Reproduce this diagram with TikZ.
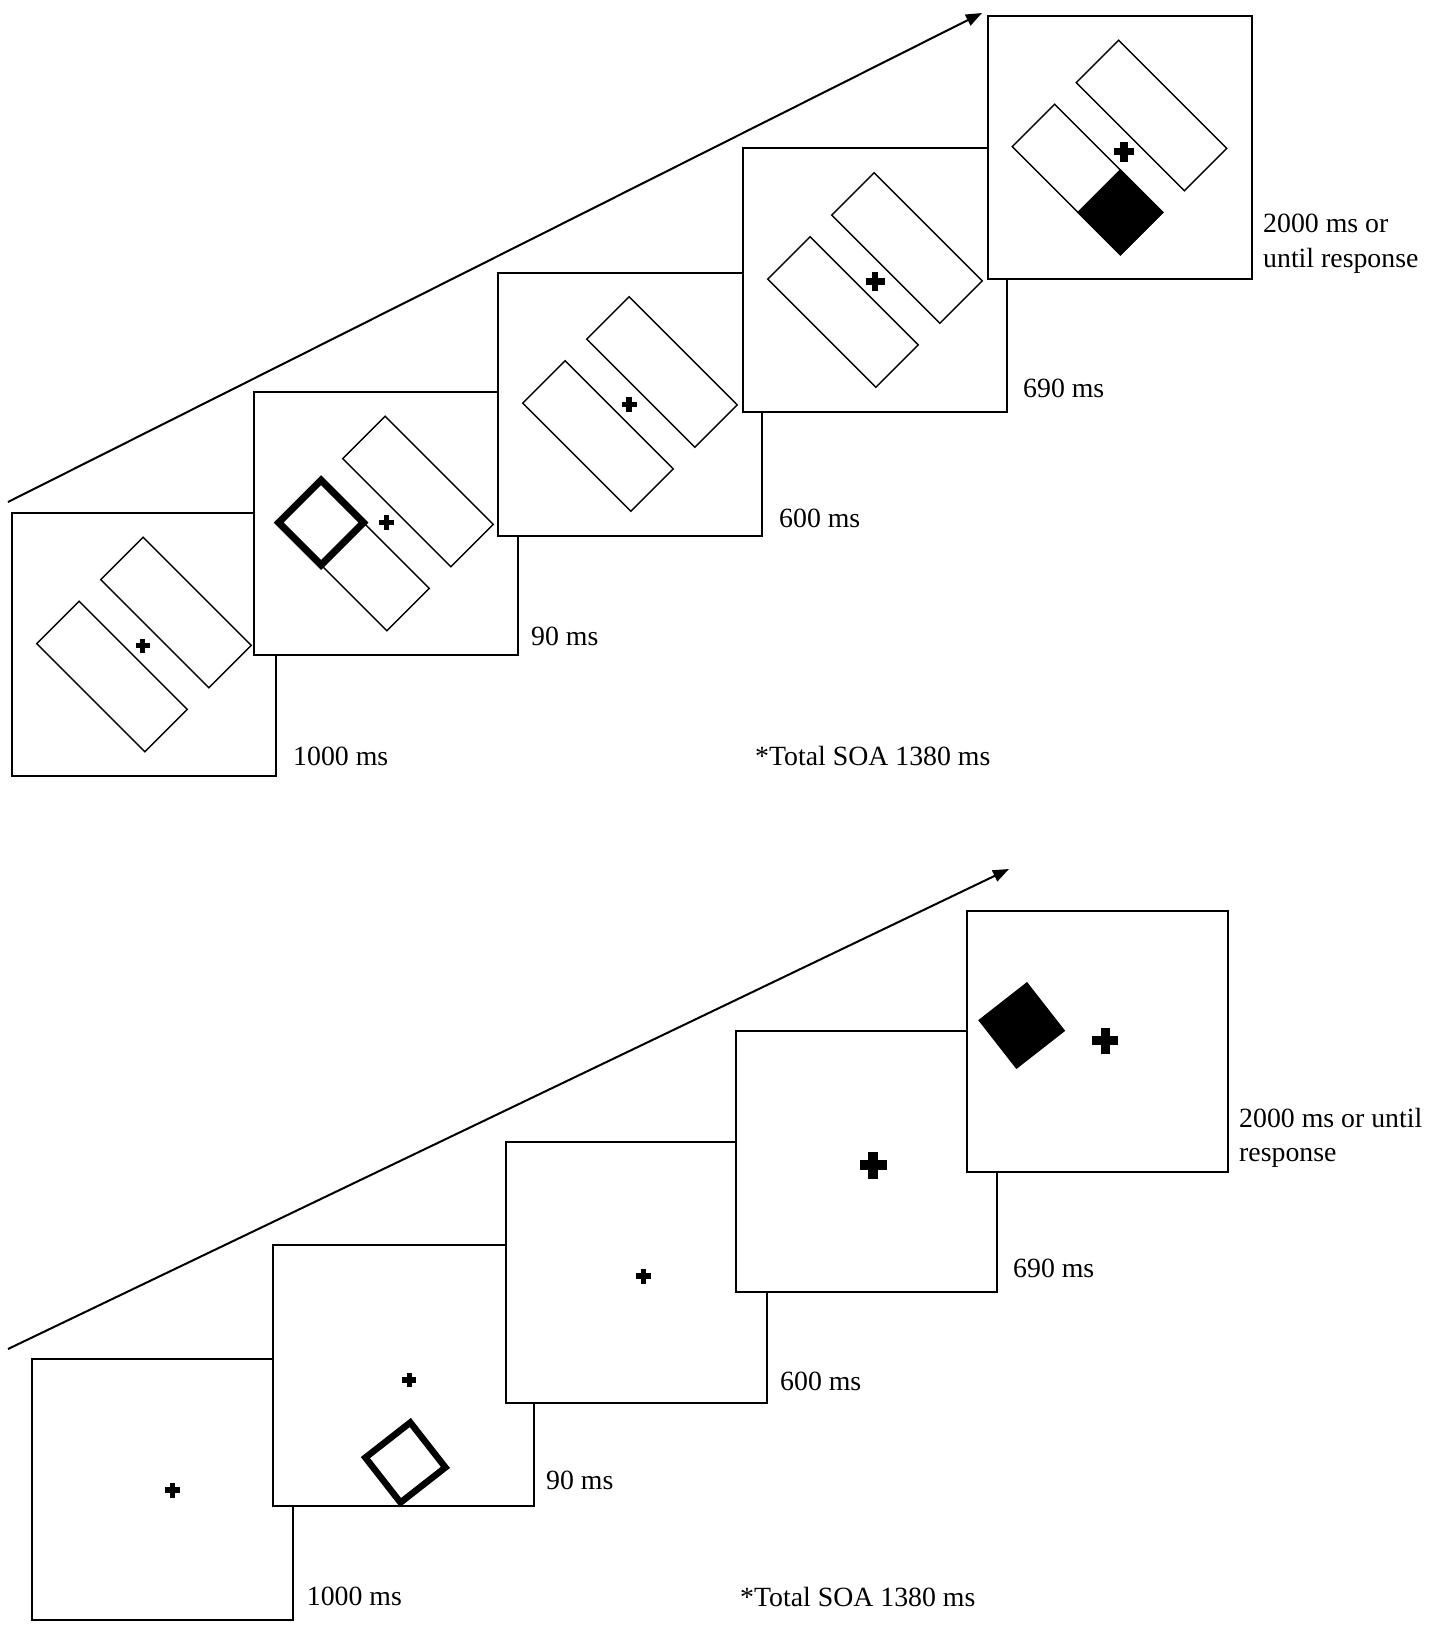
\documentclass[tikz,border=0pt]{standalone}
\usepackage{fontspec}
\setmainfont{Liberation Serif}
\usetikzlibrary{arrows.meta}
\newcommand{\fixplus}[3]{%
  \fill ({#1-#3/2},{#2-0.18*#3}) rectangle ({#1+#3/2},{#2+0.18*#3});
  \fill ({#1-0.18*#3},{#2-#3/2}) rectangle ({#1+0.18*#3},{#2+#3/2});}
\newcommand{\barpair}[2]{%
  \draw[bar, shift={({#1+32},{#2-32})}, rotate=-45] (-76.5,-30) rectangle (76.5,30);
  \draw[bar, shift={({#1-32},{#2+32})}, rotate=-45] (-76.5,-30) rectangle (76.5,30);}
\tikzset{
  topframe/.style={draw, fill=white, line width=2pt, inner sep=0pt, minimum width=264pt, minimum height=263pt},
  botframe/.style={draw, fill=white, line width=2pt, inner sep=0pt, minimum width=261pt, minimum height=261pt},
  bar/.style={draw, line width=1.4pt},
  timeline/.style={line width=2pt, -{Triangle[length=16pt,width=12pt]}},
  lbl/.style={anchor=base west, inner sep=0pt, font=\fontsize{27.8}{33}\selectfont},
}
\begin{document}
\begin{tikzpicture}[x=1pt, y=-1pt]
\useasboundingbox[fill=white] (0,0) rectangle (1430,1629);

% ---------------- top panel ----------------
\coordinate (ta) at (8,502);
\coordinate (tb) at (982,13);
\draw[timeline] (ta) -- (tb);

\node[topframe] (t1) at (144,644.5) {};
\barpair{144}{644.5}
\fixplus{142.7}{645.7}{14}

\node[topframe] (t2) at (386,523.5) {};
\barpair{386}{523.5}
\draw[line width=7pt, shift={(321.1,522.6)}, rotate=-45] (-30,-30) rectangle (30,30);
\fixplus{386.7}{522.7}{15}

\node[topframe] (t3) at (630,404) {};
\barpair{630}{404}
\fixplus{629}{404.3}{15}

\node[topframe] (t4) at (875,280) {};
\barpair{875}{280}
\fixplus{875}{281.7}{19}

\node[topframe] (t5) at (1119.5,147.5) {};
\barpair{1119.5}{147.5}
\filldraw[line width=1.4pt, shift={(1120.4,212.4)}, rotate=-45] (-30,-30) rectangle (30,30);
\fixplus{1124}{151.7}{20}

\node[lbl] (tl1) at (293,765) {1000 ms};
\node[lbl] (tl2) at (531,645) {90 ms};
\node[lbl] (tl3) at (779,527) {600 ms};
\node[lbl] (tl4) at (1023,397) {690 ms};
\node[lbl] (tl5a) at (1263,233) {2000 ms or};
\node[lbl] (tl5b) at (1263,267) {until response};
\node[lbl] (tsoa) at (755,765) {*Total SOA 1380 ms};

% ---------------- bottom panel ----------------
\coordinate (ba) at (8,1349);
\coordinate (bb) at (1009,869);
\draw[timeline] (ba) -- (bb);

\node[botframe] (b1) at (162.5,1489) {};
\fixplus{172.7}{1490}{15}

\node[botframe] (b2) at (403,1375) {};
\draw[line width=6.5pt, shift={(405.4,1462.5)}, rotate=38] (-28.5,-28.5) rectangle (28.5,28.5);
\fixplus{409.3}{1380}{14}

\node[botframe] (b3) at (636,1272.5) {};
\fixplus{643.3}{1276}{15}

\node[botframe] (b4) at (866,1161.5) {};
\fixplus{873.3}{1165.3}{27}

\node[botframe] (b5) at (1097.5,1041) {};
\fill[shift={(1021.7,1025.5)}, rotate=38] (-31,-31) rectangle (31,31);
\fixplus{1105.3}{1040.7}{26}

\node[lbl] (bl1) at (306.7,1605) {1000 ms};
\node[lbl] (bl2) at (546,1489) {90 ms};
\node[lbl] (bl3) at (780,1390) {600 ms};
\node[lbl] (bl4) at (1013,1277) {690 ms};
\node[lbl] (bl5a) at (1239,1127) {2000 ms or until};
\node[lbl] (bl5b) at (1239,1161) {response};
\node[lbl] (bsoa) at (740,1606) {*Total SOA 1380 ms};
\end{tikzpicture}
\end{document}
